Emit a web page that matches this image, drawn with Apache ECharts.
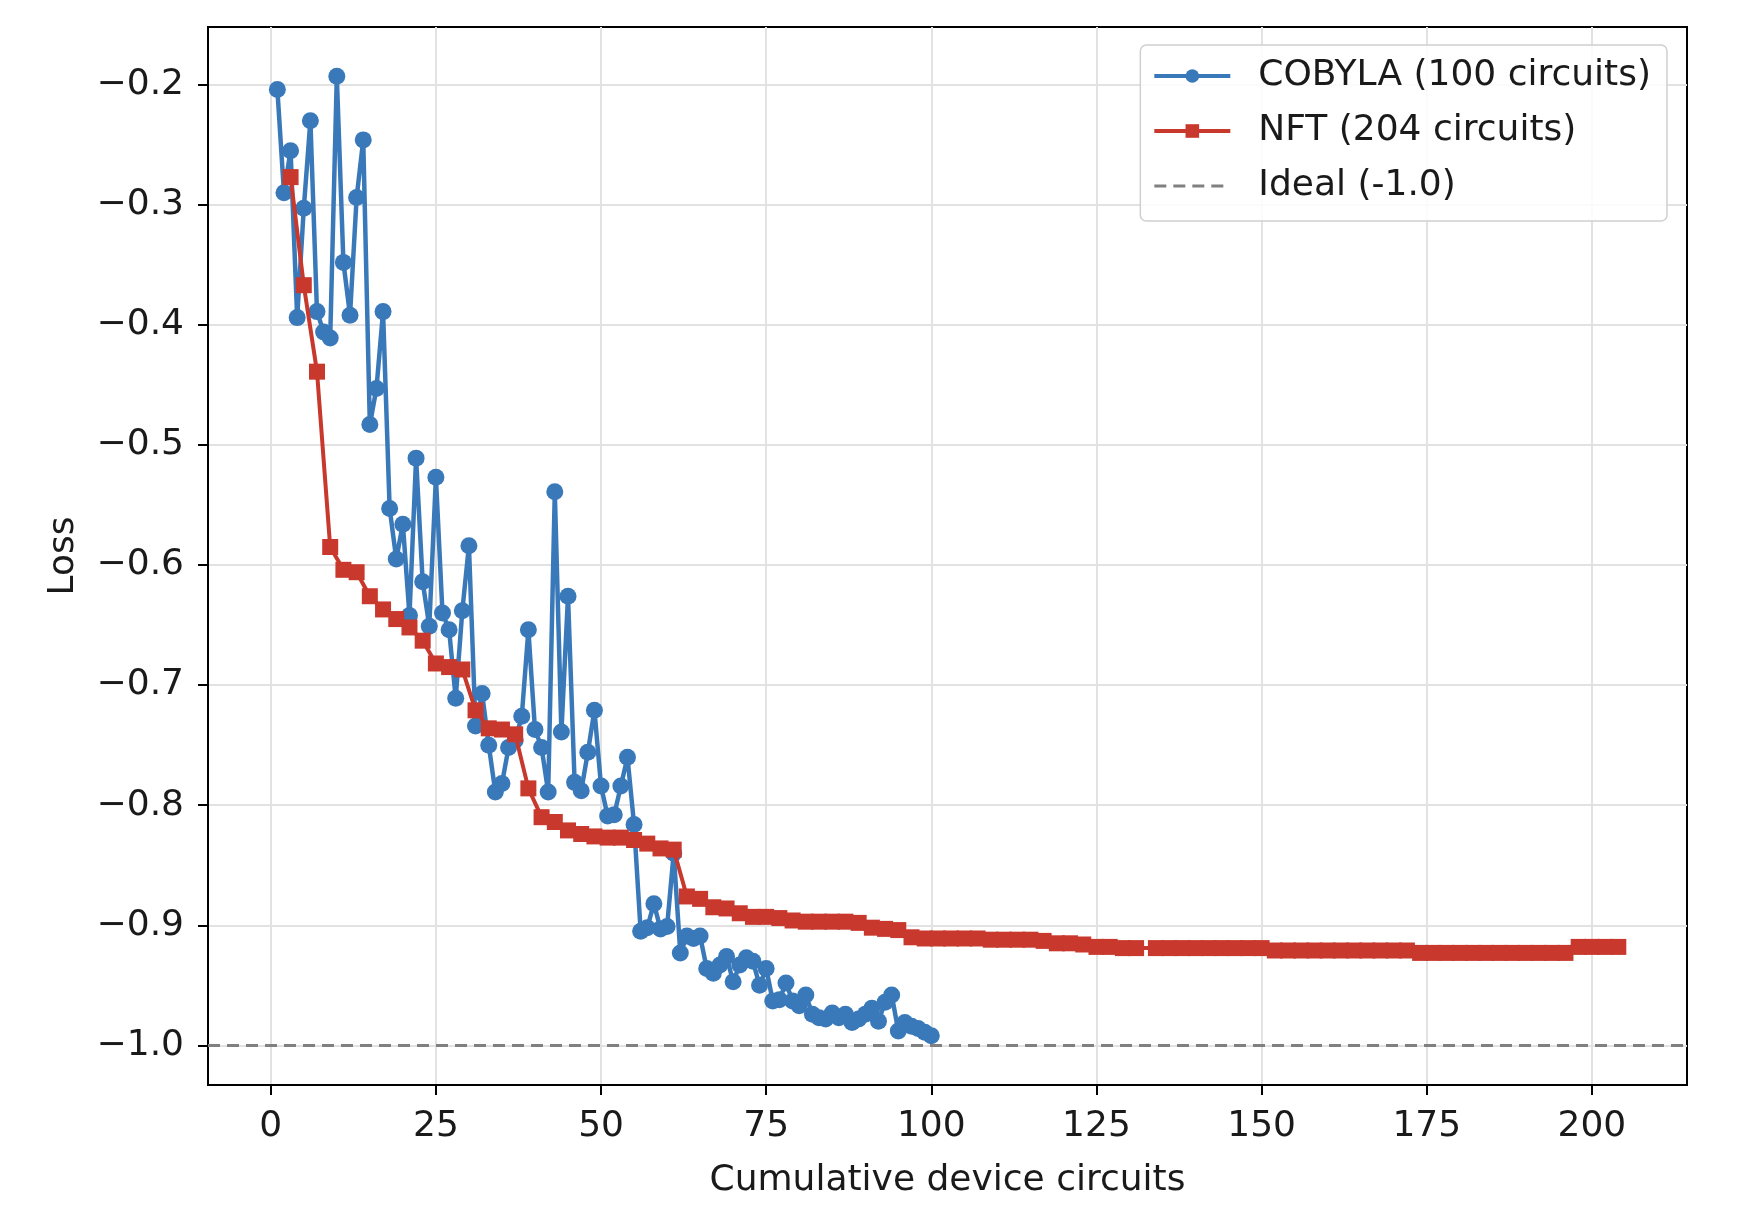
<!DOCTYPE html>
<html>
<head>
<meta charset="utf-8">
<title>Loss vs cumulative device circuits</title>
<script src="https://cdn.jsdelivr.net/npm/echarts@6/dist/echarts.min.js"></script>
<style>
  html, body { margin: 0; padding: 0; background: #fff; }
  #chart { width: 1750px; height: 1224px; }
</style>
</head>
<body>
<div id="chart"></div>
<script>
// COBYLA: one evaluation per device circuit
const cobylaX = [
  1, 2, 3, 4, 5, 6, 7, 8, 9, 10, 11, 12, 13, 14, 15, 16, 17, 18, 19, 20,
  21, 22, 23, 24, 25, 26, 27, 28, 29, 30, 31, 32, 33, 34, 35, 36, 37, 38, 39, 40,
  41, 42, 43, 44, 45, 46, 47, 48, 49, 50, 51, 52, 53, 54, 55, 56, 57, 58, 59, 60,
  61, 62, 63, 64, 65, 66, 67, 68, 69, 70, 71, 72, 73, 74, 75, 76, 77, 78, 79, 80,
  81, 82, 83, 84, 85, 86, 87, 88, 89, 90, 91, 92, 93, 94, 95, 96, 97, 98, 99, 100
];
const cobylaLoss = [
  -0.204, -0.290, -0.255, -0.394, -0.303, -0.230, -0.389, -0.406, -0.411, -0.193,
  -0.348, -0.392, -0.294, -0.246, -0.483, -0.453, -0.389, -0.553, -0.595, -0.566,
  -0.642, -0.511, -0.614, -0.651, -0.527, -0.640, -0.654, -0.711, -0.638, -0.584,
  -0.734, -0.707, -0.750, -0.789, -0.782, -0.752, -0.746, -0.726, -0.654, -0.737,
  -0.752, -0.789, -0.539, -0.739, -0.626, -0.781, -0.788, -0.756, -0.721, -0.784,
  -0.809, -0.808, -0.784, -0.760, -0.816, -0.905, -0.902, -0.882, -0.903, -0.901,
  -0.840, -0.923, -0.909, -0.911, -0.909, -0.936, -0.940, -0.933, -0.926, -0.947,
  -0.933, -0.927, -0.930, -0.950, -0.936, -0.963, -0.962, -0.948, -0.963, -0.967,
  -0.958, -0.974, -0.977, -0.978, -0.973, -0.977, -0.974, -0.981, -0.978, -0.974,
  -0.969, -0.980, -0.964, -0.958, -0.988, -0.981, -0.984, -0.986, -0.989, -0.992
];

// NFT: best loss so far, logged every two circuits
const nftX = [
  3, 5, 7, 9, 11, 13, 15, 17, 19, 21, 23, 25, 27, 29, 31, 33, 35, 37, 39, 41,
  43, 45, 47, 49, 51, 53, 55, 57, 59, 61, 63, 65, 67, 69, 71, 73, 75, 77, 79, 81,
  83, 85, 87, 89, 91, 93, 95, 97, 99, 101, 103, 105, 107, 109, 111, 113, 115, 117, 119, 121,
  123, 125, 127, 129, 131, 134, 136, 138, 140, 142, 144, 146, 148, 150, 152, 154, 156, 158, 160, 162,
  164, 166, 168, 170, 172, 174, 176, 178, 180, 182, 184, 186, 188, 190, 192, 194, 196, 198, 200, 202,
  204
];
const nftLoss = [
  -0.277, -0.367, -0.439, -0.585, -0.604, -0.606, -0.626, -0.637, -0.645, -0.652,
  -0.663, -0.682, -0.685, -0.687, -0.721, -0.736, -0.737, -0.741, -0.786, -0.810,
  -0.814, -0.821, -0.824, -0.826, -0.827, -0.827, -0.829, -0.832, -0.836, -0.837,
  -0.876, -0.878, -0.885, -0.886, -0.890, -0.893, -0.893, -0.894, -0.896, -0.897,
  -0.897, -0.897, -0.897, -0.898, -0.902, -0.903, -0.904, -0.910, -0.911, -0.911,
  -0.911, -0.911, -0.911, -0.912, -0.912, -0.912, -0.912, -0.913, -0.915, -0.915,
  -0.916, -0.918, -0.918, -0.919, -0.919, -0.919, -0.919, -0.919, -0.919, -0.919,
  -0.919, -0.919, -0.919, -0.919, -0.921, -0.921, -0.921, -0.921, -0.921, -0.921,
  -0.921, -0.921, -0.921, -0.921, -0.921, -0.923, -0.923, -0.923, -0.923, -0.923,
  -0.923, -0.923, -0.923, -0.923, -0.923, -0.923, -0.923, -0.918, -0.918, -0.918,
  -0.918
];

const idealLoss = -1.0;

const seriesNames = ['COBYLA (100 circuits)', 'NFT (204 circuits)', 'Ideal (-1.0)'];
const xTicks = [0, 25, 50, 75, 100, 125, 150, 175, 200];
const yTicks = [-1.0, -0.9, -0.8, -0.7, -0.6, -0.5, -0.4, -0.3, -0.2];

const BLUE = '#3a79b9';
const RED = '#c8382d';
const GREY = '#808080';
const FONT = 'DejaVu Sans';
const TEXT = '#1a1a1a';
const FS = 36;

function pairs(xs, ys) {
  return xs.map(function (x, i) { return [x, ys[i]]; });
}

function lossLabel(v) {
  return (v < 0 ? '\u2212' : '') + Math.abs(v).toFixed(1);
}

const chart = echarts.init(document.getElementById('chart'));

chart.setOption({
  backgroundColor: '#fff',
  animation: false,
  textStyle: { fontFamily: FONT },
  grid: {
    left: 208, right: 63, top: 27, bottom: 139,
    show: true,
    borderColor: '#000',
    borderWidth: 2
  },
  legend: {
    orient: 'vertical',
    right: 83,
    top: 45,
    data: [
      { name: seriesNames[0], lineStyle: { width: 4 } },
      { name: seriesNames[1], lineStyle: { width: 4 } },
      { name: seriesNames[2], lineStyle: { width: 3 } }
    ],
    itemWidth: 76,
    itemHeight: 17,
    itemGap: 15,
    padding: [11, 16, 15, 12],
    backgroundColor: 'rgba(255,255,255,0.85)',
    borderColor: '#d0d0d0',
    borderWidth: 1.5,
    borderRadius: 6,
    textStyle: { fontFamily: FONT, fontSize: FS, color: TEXT, lineHeight: 40, padding: [0, 0, 0, 23] }
  },
  xAxis: {
    type: 'value',
    min: -9.5,
    max: 214.4,
    name: 'Cumulative device circuits',
    nameLocation: 'middle',
    nameGap: 78,
    nameTextStyle: { fontFamily: FONT, fontSize: FS, color: TEXT },
    axisLine: { show: true, onZero: false, lineStyle: { color: '#000', width: 2 } },
    axisTick: { show: true, length: 10, customValues: xTicks, lineStyle: { color: '#000', width: 2 } },
    axisLabel: { customValues: xTicks, fontFamily: FONT, fontSize: FS, color: TEXT, margin: 24 },
    splitLine: { show: true, lineStyle: { color: '#e2e2e2', width: 2 } }
  },
  yAxis: {
    type: 'value',
    min: -1.033,
    max: -0.152,
    name: 'Loss',
    nameLocation: 'middle',
    nameRotate: 90,
    nameGap: 126,
    nameTextStyle: { fontFamily: FONT, fontSize: FS, color: TEXT },
    axisLine: { show: true, onZero: false, lineStyle: { color: '#000', width: 2 } },
    axisTick: { show: true, length: 10, customValues: yTicks, lineStyle: { color: '#000', width: 2 } },
    axisLabel: { customValues: yTicks, formatter: lossLabel, fontFamily: FONT, fontSize: FS, color: TEXT, margin: 24 },
    splitLine: { show: true, lineStyle: { color: '#e2e2e2', width: 2 } }
  },
  series: [
    {
      name: seriesNames[0],
      type: 'line',
      data: pairs(cobylaX, cobylaLoss),
      symbol: 'circle',
      symbolSize: 17,
      lineStyle: { color: BLUE, width: 4.5 },
      itemStyle: { color: BLUE },
      emphasis: { disabled: true },
      z: 2
    },
    {
      name: seriesNames[1],
      type: 'line',
      data: pairs(nftX, nftLoss),
      symbol: 'rect',
      symbolSize: 16,
      lineStyle: { color: RED, width: 4 },
      itemStyle: { color: RED },
      emphasis: { disabled: true },
      z: 3
    },
    {
      name: seriesNames[2],
      type: 'line',
      data: [],
      symbol: 'none',
      lineStyle: { color: GREY, width: 3, type: [12, 7] },
      // keep the legend icon a bare dashed line
      itemStyle: { color: 'rgba(0,0,0,0)' },
      markLine: {
        silent: true,
        symbol: 'none',
        label: { show: false },
        lineStyle: { color: GREY, width: 3, type: [12, 7] },
        data: [{ yAxis: idealLoss }]
      },
      z: 4
    }
  ]
});
</script>
</body>
</html>
